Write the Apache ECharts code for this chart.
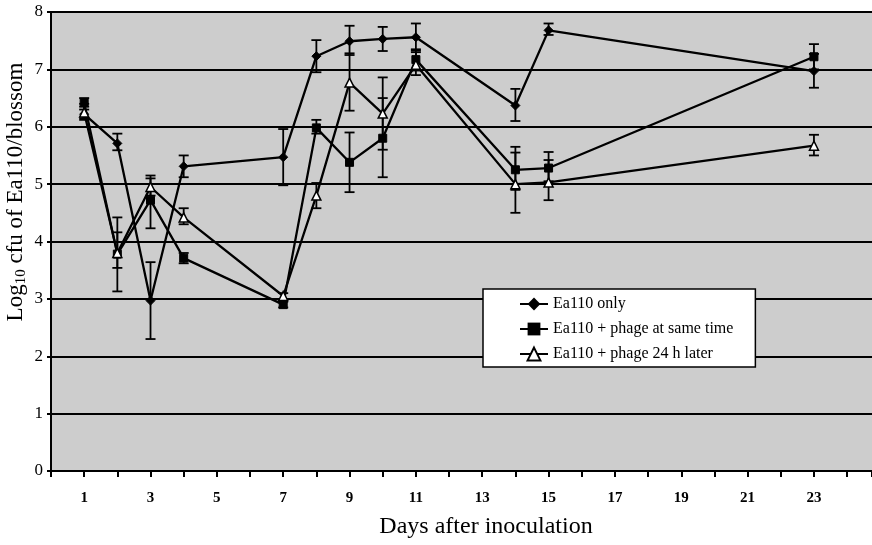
<!DOCTYPE html>
<html>
<head>
<meta charset="utf-8">
<script src="https://cdn.jsdelivr.net/npm/echarts@6/dist/echarts.min.js"></script>
<style>html,body{margin:0;padding:0;background:#fff}#c{width:872px;height:545px}</style>
</head>
<body>
<div id="c"></div>
<script>
var days = [1, 2, 3, 4, 7, 8, 9, 10, 11, 14, 15, 23];
var names = ['Ea110 only', 'Ea110 + phage at same time', 'Ea110 + phage 24 h later'];
var xTitle = 'Days after inoculation';
var yTitleParts = ['Log', '10', ' cfu of Ea110/blossom'];

var onlyVals = [6.22, 5.71, 2.97, 5.31, 5.47, 7.23, 7.49, 7.53, 7.56, 6.37, 7.68, 6.97];
var onlyLo   = [6.12, 5.59, 2.30, 5.12, 4.98, 6.95, 7.25, 7.32, 7.33, 6.10, 7.60, 6.68];
var onlyHi   = [6.35, 5.88, 3.64, 5.50, 5.96, 7.51, 7.76, 7.74, 7.80, 6.66, 7.80, 7.27];

var sameVals = [6.42, 3.78, 4.72, 3.71, 2.90, 5.98, 5.38, 5.80, 7.17, 5.25, 5.28, 7.22];
var sameLo   = [6.30, 3.13, 4.23, 3.62, 2.85, 5.88, 4.86, 5.12, 6.98, 4.90, 5.05, 7.00];
var sameHi   = [6.50, 4.42, 5.10, 3.80, 2.95, 6.12, 5.90, 6.50, 7.35, 5.65, 5.56, 7.44];

var laterVals = [6.25, 3.80, 4.95, 4.42, 3.05, 4.80, 6.77, 6.23, 7.08, 5.00, 5.03, 5.67];
var laterLo   = [6.15, 3.54, 4.80, 4.30, 3.00, 4.58, 6.28, 5.60, 6.90, 4.50, 4.72, 5.50];
var laterHi   = [6.40, 4.16, 5.15, 4.58, 3.10, 5.02, 7.28, 6.86, 7.30, 5.55, 5.42, 5.86];

var xTickLabels = [1, 3, 5, 7, 9, 11, 13, 15, 17, 19, 21, 23];

function pts(vals) { return days.map(function (d, i) { return [d, vals[i]]; }); }
function errs(lo, hi) { return days.map(function (d, i) { return [d, lo[i], hi[i]]; }); }

function errSeries(lo, hi) {
  return {
    type: 'custom',
    data: errs(lo, hi),
    z: 1,
    silent: true,
    renderItem: function (params, api) {
      var x = api.value(0);
      var top = api.coord([x, api.value(2)]);
      var bot = api.coord([x, api.value(1)]);
      var w = 5;
      var st = { stroke: '#000', lineWidth: 1.8 };
      return {
        type: 'group',
        children: [
          { type: 'line', shape: { x1: top[0], y1: top[1], x2: bot[0], y2: bot[1] }, style: st },
          { type: 'line', shape: { x1: top[0] - w, y1: top[1], x2: top[0] + w, y2: top[1] }, style: st },
          { type: 'line', shape: { x1: bot[0] - w, y1: bot[1], x2: bot[0] + w, y2: bot[1] }, style: st }
        ]
      };
    }
  };
}

var font = 'Liberation Serif';
var chart = echarts.init(document.getElementById('c'));
chart.setOption({
  animation: false,
  backgroundColor: '#fff',
  grid: {
    left: 51, right: 0, top: 12, bottom: 74, show: true, backgroundColor: '#cdcdcd', borderWidth: 0,
    containLabel: false, outerBoundsMode: 'none'
  },
  graphic: [
    {
      type: 'text', x: 486, y: 527, z: 10,
      style: {
        text: xTitle, fontFamily: font, fontSize: 24, fill: '#000',
        align: 'center', verticalAlign: 'middle'
      }
    },
    {
      type: 'text', x: 16, y: 192, rotation: Math.PI / 2, z: 10,
      style: {
        text: '{a|' + yTitleParts[0] + '}{s|' + yTitleParts[1] + '}{a|' + yTitleParts[2] + '}',
        align: 'center', verticalAlign: 'middle',
        rich: {
          a: { fontFamily: font, fontSize: 23, fill: '#000' },
          s: { fontFamily: font, fontSize: 15, fill: '#000', padding: [11, 0, 0, 0] }
        }
      }
    }
  ],
  xAxis: {
    type: 'value', min: 0, max: 24.75, interval: 1,
    axisLine: { show: true, lineStyle: { color: '#000', width: 2 } },
    axisTick: { show: true, length: 6, lineStyle: { color: '#000', width: 2 } },
    axisLabel: {
      fontFamily: font, fontSize: 15, color: '#000', margin: 20, fontWeight: 'bold',
      formatter: function (v) { return xTickLabels.indexOf(v) >= 0 ? String(v) : ''; }
    },
    splitLine: { show: false }
  },
  yAxis: {
    type: 'value', min: 0, max: 8, interval: 1,
    axisLine: { show: true, lineStyle: { color: '#000', width: 2 } },
    axisTick: { show: true, length: 4, lineStyle: { color: '#000', width: 2 } },
    axisLabel: { fontFamily: font, fontSize: 17, color: '#000', margin: 8 },
    splitLine: { show: true, lineStyle: { color: '#000', width: 2 } }
  },
  legend: {
    orient: 'vertical', left: 483, top: 289,
    backgroundColor: '#fff', borderColor: '#000', borderWidth: 1.5,
    padding: [7, 22, 5, 36], itemGap: 9, itemWidth: 28, itemHeight: 16,
    textStyle: { fontFamily: font, fontSize: 16, color: '#000' },
    data: names
  },
  series: [
    errSeries(onlyLo, onlyHi),
    errSeries(sameLo, sameHi),
    errSeries(laterLo, laterHi),
    {
      name: names[0], type: 'line', data: pts(onlyVals), z: 3,
      symbol: 'diamond', symbolSize: 9,
      lineStyle: { color: '#000', width: 2.3 },
      itemStyle: { color: '#000', borderColor: '#000' }
    },
    {
      name: names[1], type: 'line', data: pts(sameVals), z: 3,
      symbol: 'rect', symbolSize: 8,
      lineStyle: { color: '#000', width: 2.3 },
      itemStyle: { color: '#000', borderColor: '#000' }
    },
    {
      name: names[2], type: 'line', data: pts(laterVals), z: 4,
      symbol: 'triangle', symbolSize: 9,
      lineStyle: { color: '#000', width: 2.3 },
      itemStyle: { color: '#fff', borderColor: '#000', borderWidth: 1.5 }
    }
  ]
});
</script>
</body>
</html>
